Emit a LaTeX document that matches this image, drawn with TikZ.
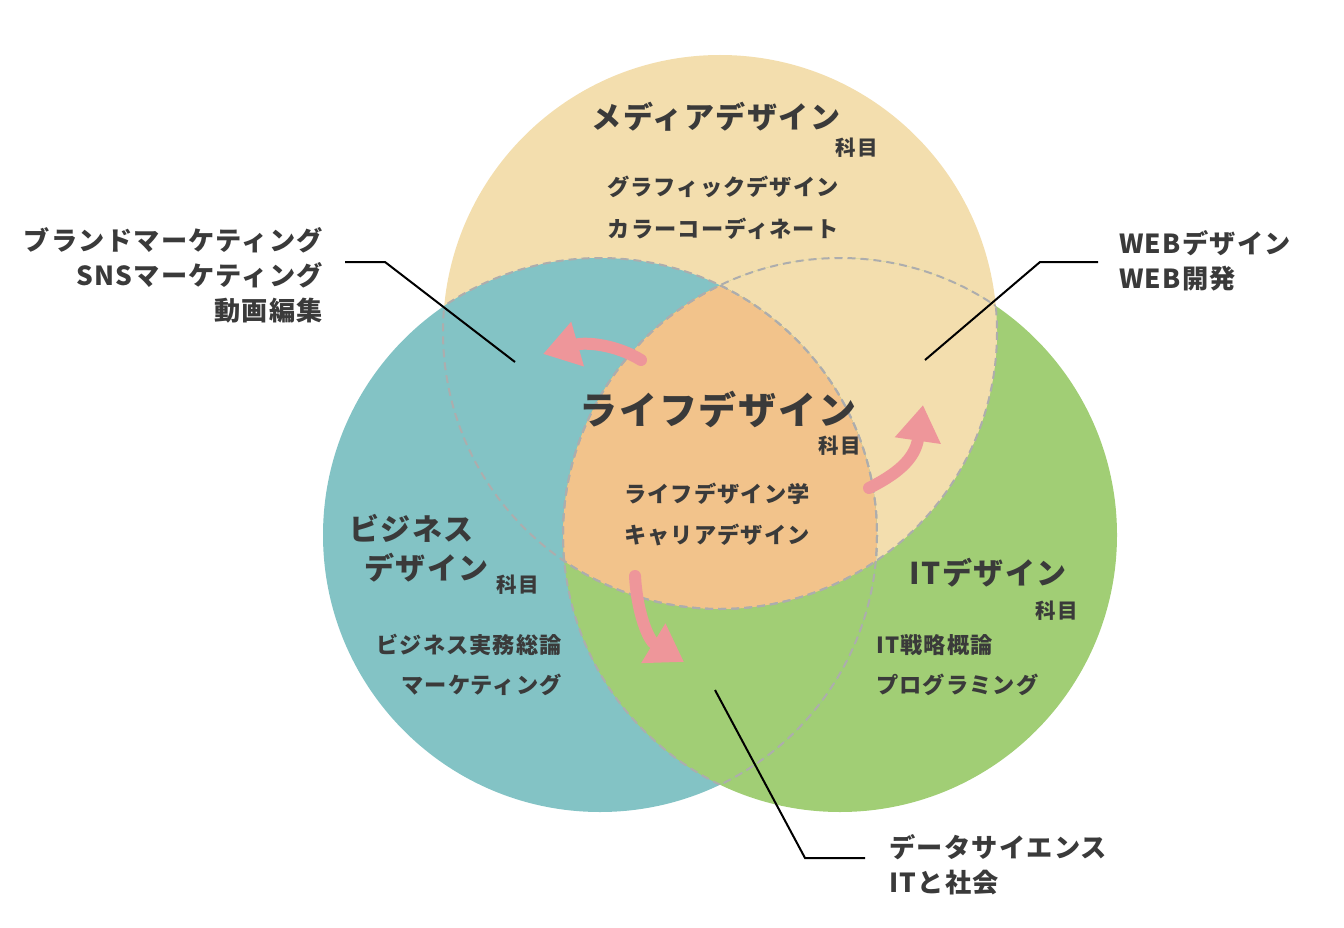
\documentclass[tikz,border=0pt]{standalone}
\usepackage{fontspec}
\setmainfont{Noto Sans CJK JP}[LetterSpace=5]
\usetikzlibrary{arrows.meta, positioning}
\definecolor{mediaC}{HTML}{F3DEAE}
\definecolor{bizC}{HTML}{83C3C5}
\definecolor{itC}{HTML}{A1CE75}
\definecolor{lifeC}{HTML}{F2C38B}
\definecolor{flowC}{HTML}{EE969A}
\definecolor{inkC}{HTML}{3A3A3A}
\definecolor{dashC}{HTML}{ADADAD}

\begin{document}
\begin{tikzpicture}[
    x=1pt, y=-1pt,
    head/.style={font=\bfseries\fontsize{30}{30}\selectfont, text=inkC, inner sep=0pt},
    bighead/.style={head, font=\bfseries\fontsize{38}{38}\selectfont},
    subj/.style={font=\bfseries\fontsize{20.5}{20.5}\selectfont, text=inkC, inner sep=0pt},
    course/.style={font=\bfseries\fontsize{22.2}{22.2}\selectfont, text=inkC, inner sep=0pt},
    callout/.style={font=\bfseries\fontsize{26.2}{35}\selectfont, text=inkC, inner sep=0pt},
    hidden/.style={draw=dashC, line width=2pt, dash pattern=on 8pt off 5pt},
    leader/.style={draw=black, line width=2pt},
    flow/.style={draw=flowC, line width=12pt, line cap=round, -{Triangle[length=36pt, width=44pt]}}
]
    \useasboundingbox (0,0) rectangle (1344,928);

    \coordinate (mediaO) at (720,332);
    \coordinate (bizO) at (600,535);
    \coordinate (itO) at (840,535);

    % circles, each one over the next
    \fill[mediaC] (mediaO) circle (277);
    \fill[itC] (itO) circle (277);
    \begin{scope}
        \clip (itO) circle (277);
        \fill[mediaC] (mediaO) circle (277);
    \end{scope}
    \fill[bizC] (bizO) circle (277);
    \begin{scope}
        \clip (bizO) circle (277);
        \fill[itC] (itO) circle (277);
    \end{scope}
    \begin{scope}
        \clip (bizO) circle (277);
        \clip (itO) circle (277);
        \fill[lifeC] (mediaO) circle (277);
    \end{scope}

    % hidden outlines
    \foreach \a/\b in {mediaO/bizO, mediaO/itO, bizO/mediaO, bizO/itO, itO/mediaO, itO/bizO}{
        \begin{scope}
            \clip (\b) circle (277);
            \draw[hidden] (\a) circle (277);
        \end{scope}
    }

    \node[head] (mediaT) at (716,117) {メディアデザイン};
    \node[subj] (mediaK) at (857,148) {科目};
    \node[course] (mediaA) at (723,187) {グラフィックデザイン};
    \node[course] (mediaB) at (723,229) {カラーコーディネート};

    \node[bighead] (lifeT) at (718,410) {ライフデザイン};
    \node[subj] (lifeK) at (840,446) {科目};
    \node[course, anchor=west] (lifeA) at (624,494) {ライフデザイン学};
    \node[course, anchor=west] (lifeB) at (624,535) {キャリアデザイン};

    \node[head, anchor=west] (bizT1) at (349,528) {ビジネス};
    \node[head, anchor=west] (bizT2) at (364,568) {デザイン};
    \node[subj] (bizK) at (518,585) {科目};
    \node[course, anchor=east] (bizA) at (562,645) {ビジネス実務総論};
    \node[course, anchor=east] (bizB) at (562,685) {マーケティング};

    \node[head] (itT) at (988,573) {ITデザイン};
    \node[subj] (itK) at (1057,611) {科目};
    \node[course, anchor=west] (itA) at (876,645) {IT戦略概論};
    \node[course, anchor=west] (itB) at (876,685) {プログラミング};

    \node[callout, align=right, anchor=east] (snsL) at (323,275) {ブランドマーケティング\\SNSマーケティング\\動画編集};
    \node[callout, align=left, anchor=west] (webL) at (1119,261) {WEBデザイン\\WEB開発};
    \node[callout, align=left, anchor=west] (dataL) at (889,865) {データサイエンス\\ITと社会};

    \coordinate (snsA) at (345,262);
    \coordinate (snsB) at (385,262);
    \coordinate (snsC) at (515,362);
    \coordinate (webA) at (1098,262);
    \coordinate (webB) at (1040,262);
    \coordinate (webC) at (925,360);
    \coordinate (dataA) at (865,858);
    \coordinate (dataB) at (805,858);
    \coordinate (dataC) at (715,690);
    \draw[leader] (snsA) -- (snsB) -- (snsC);
    \draw[leader] (webA) -- (webB) -- (webC);
    \draw[leader] (dataA) -- (dataB) -- (dataC);

    \coordinate (toBiz) at (543,354);
    \coordinate (toWeb) at (923,405);
    \coordinate (toIt) at (684,662);
    \draw[flow] (641,360) .. controls (615,344) and (585,342) .. (toBiz);
    \draw[flow] (869,488) .. controls (895,475) and (915,460) .. (toWeb);
    \draw[flow] (635,576) .. controls (637,612) and (648,640) .. (toIt);
\end{tikzpicture}
\end{document}
